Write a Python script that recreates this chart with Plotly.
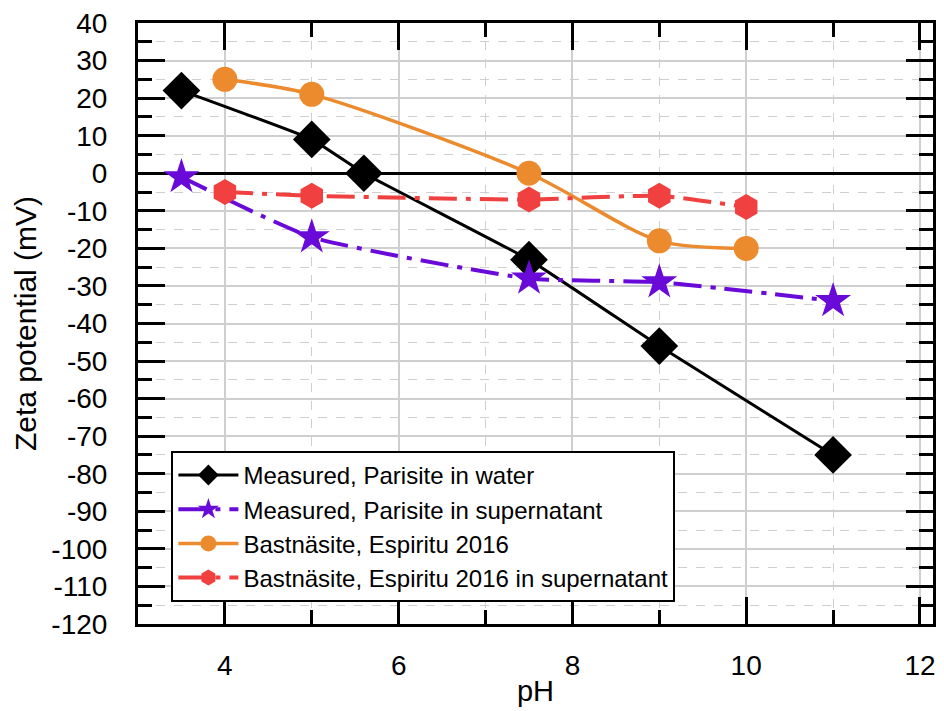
import plotly.graph_objects as go

# Data
ph_water = [3.5, 5, 5.6, 7.5, 9, 11]
zeta_water = [22, 9, 0, -23, -46, -75]

ph_super = [3.5, 5, 7.5, 9, 11]
zeta_super = [-1, -17, -28, -29, -34]

ph_bast = [4, 5, 7.5, 9, 10]
zeta_bast = [25, 21, 0, -18, -20]

ph_bast_super = [4, 5, 7.5, 9, 10]
zeta_bast_super = [-5, -6, -7, -6, -9]

x_ticks = [4, 6, 8, 10, 12]
y_ticks = list(range(-120, 41, 10))

FONT = "Liberation Sans, Arial, sans-serif"
DASHDOT = "28px,9px,5px,9px"

fig = go.Figure()

fig.add_trace(go.Scatter(
    x=ph_water, y=zeta_water, mode="lines+markers",
    name="Measured, Parisite in water",
    line=dict(color="black", width=3, shape="spline", smoothing=0.3),
    marker=dict(symbol="diamond", size=29, color="black"),
))
fig.add_trace(go.Scatter(
    x=ph_super, y=zeta_super, mode="lines+markers",
    name="Measured, Parisite in supernatant",
    line=dict(color="#6a0ad8", width=4, dash=DASHDOT, shape="spline", smoothing=0.5),
    marker=dict(symbol="star", size=27, color="#6a0ad8"),
))
fig.add_trace(go.Scatter(
    x=ph_bast, y=zeta_bast, mode="lines+markers",
    name="Bastnäsite, Espiritu 2016",
    line=dict(color="#ec8a2e", width=3.5, shape="spline", smoothing=0.8),
    marker=dict(symbol="circle", size=25, color="#ec8a2e"),
))
fig.add_trace(go.Scatter(
    x=ph_bast_super, y=zeta_bast_super, mode="lines+markers",
    name="Bastnäsite, Espiritu 2016 in supernatant",
    line=dict(color="#f04040", width=4, dash=DASHDOT, shape="spline", smoothing=0.5),
    marker=dict(symbol="hexagon", size=26, color="#f04040"),
))

axis_common = dict(
    showline=True, linecolor="black", linewidth=3, mirror="allticks",
    ticks="inside", ticklen=27, tickwidth=3, tickcolor="black",
    showgrid=True, gridcolor="#cfcfcf", gridwidth=1.5,
    tickfont=dict(family=FONT, size=28, color="black"),
)
minor_common = dict(ticks="inside", ticklen=14, tickwidth=3, tickcolor="black",
                    showgrid=True, gridcolor="#cfcfcf", griddash="dash", gridwidth=1)

fig.update_xaxes(
    range=[3, 12.15], tickvals=x_ticks, ticktext=[str(v) for v in x_ticks],
    title=dict(text="pH", font=dict(family=FONT, size=29, color="black"), standoff=2),
    zeroline=False, ticklabelstandoff=14,
    minor=dict(dtick=1, tick0=0, **minor_common),
    **axis_common,
)
fig.update_yaxes(
    range=[-120, 40], tickvals=y_ticks, ticktext=[str(v) for v in y_ticks],
    title=dict(text="Zeta potential (mV)", font=dict(family=FONT, size=30, color="black"), standoff=6),
    zeroline=True, zerolinecolor="black", zerolinewidth=3, ticklabelstandoff=22,
    minor=dict(dtick=5, tick0=0, **minor_common),
    **axis_common,
)

fig.update_layout(
    width=944, height=711,
    margin=dict(l=138, r=8, t=23, b=83),
    plot_bgcolor="white", paper_bgcolor="white",
    font=dict(family=FONT, color="black"),
    legend=dict(
        x=0.042, y=0.288, xanchor="left", yanchor="top",
        bgcolor="white", bordercolor="black", borderwidth=2,
        font=dict(family=FONT, size=24, color="black"),
        tracegroupgap=0, itemwidth=60,
    ),
)

fig.write_html("out.html")
